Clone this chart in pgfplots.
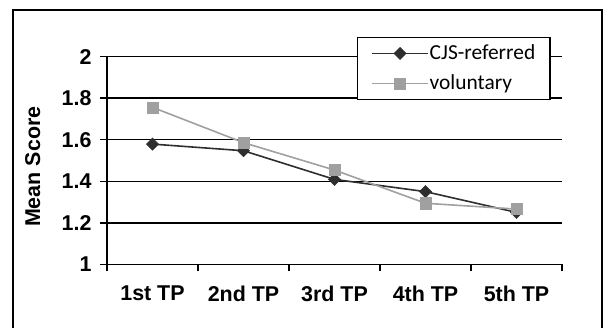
\documentclass[border=0pt]{standalone}
\usepackage{fontspec}
\setmainfont{Liberation Sans}
\newfontfamily\carlito{Carlito}
\usepackage{pgfplots}
\pgfplotsset{compat=1.18}
\definecolor{cjs}{HTML}{2E2E2E}
\definecolor{vol}{HTML}{A0A0A0}
\begin{document}
\begin{tikzpicture}[x=1bp,y=1bp]
\path[use as bounding box] (0,0) rectangle (604,327);
\draw[line width=2bp] (12.7,-10) -- (12.7,317) -- (601.7,317) -- (601.7,-10);
\begin{axis}[
  at={(107bp,62.7bp)}, anchor=south west,
  scale only axis, width=455bp, height=207.6bp,
  xmin=0.5, xmax=5.5, ymin=1, ymax=2,
  axis x line*=bottom, axis y line*=left,
  axis line style={line width=1.5bp, black},
  xtick={1,2,3,4,5},
  xticklabels={1st TP,2nd TP,3rd TP,4th TP,5th TP},
  major x tick style={draw=none},
  minor xtick={0.5,1.5,2.5,3.5,4.5,5.5},
  minor x tick style={line width=1.5bp, black},
  minor tick length=7bp,
  ytick={1,1.2,1.4,1.6,1.8,2},
  yticklabels={1,1.2,1.4,1.6,1.8,2},
  major tick length=7bp,
  tick align=outside,
  y tick style={line width=1.5bp, black},
  ymajorgrids, grid style={line width=1.5bp, black},
  /pgf/number format/assume math mode=true,
  ticklabel style={font=\bfseries\fontsize{21.5}{24}\selectfont},
  yticklabel style={xshift=-5bp},
  xticklabel style={yshift=-11bp},
  legend style={at={(0.549,1.0963)}, anchor=north west, draw=black, line width=1.5bp, fill=white,
    font=\carlito\fontsize{21.5}{24}\selectfont, inner xsep=14bp, inner ysep=5bp, row sep=8bp,
    nodes={inner sep=1bp, text depth=4bp, text height=16bp}},
  legend cell align=left,
  legend image code/.code={\draw[#1, mark repeat=2, mark phase=2] plot coordinates {(6bp,0bp) (33.75bp,0bp) (61.5bp,0bp)};},
  clip=false,
]
\addplot[cjs, line width=1.6bp, mark=square*, mark size=4.3bp, mark options={rotate=45, fill=cjs, draw=cjs, line width=0.5bp}]
  coordinates {(1,1.579) (2,1.547) (3,1.409) (4,1.350) (5,1.250)};
\addlegendentry{CJS-referred}
\addplot[vol, line width=1.6bp, mark=square*, mark size=5.6bp, mark options={fill=vol, draw=vol, line width=0.5bp}]
  coordinates {(1,1.756) (2,1.586) (3,1.454) (4,1.294) (5,1.266)};
\addlegendentry{voluntary}
\node[rotate=90, anchor=center, font=\bfseries\fontsize{21.5}{24}\selectfont] at (axis description cs:-0.163,0.47) {Mean Score};
\end{axis}
\end{tikzpicture}
\end{document}
